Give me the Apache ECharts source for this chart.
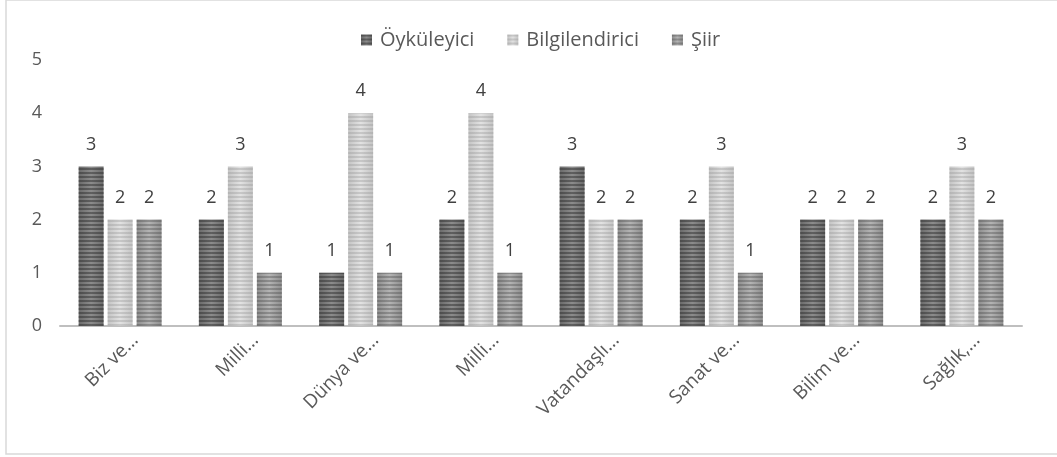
<!DOCTYPE html>
<html lang="tr">
<head>
<meta charset="UTF-8">
<title>Metin türleri</title>
<script src="https://cdn.jsdelivr.net/npm/echarts@6/dist/echarts.min.js"></script>
<style>
	html, body { margin: 0; padding: 0; background: #fff; }
	#chart { width: 1057px; height: 457px; }
</style>
</head>
<body>
<div id="chart"></div>
<script>
	// veriler
	var categories = ['Biz ve...', 'Milli...', 'Dünya ve...', 'Milli...', 'Vatandaşlı...', 'Sanat ve...', 'Bilim ve...', 'Sağlık,...'];
	var seriesNames = ['Öyküleyici', 'Bilgilendirici', 'Şiir'];
	var oykuleyici = [3, 2, 1, 2, 3, 2, 2, 2];
	var bilgilendirici = [2, 3, 4, 4, 2, 3, 2, 3];
	var siir = [2, 1, 1, 1, 2, 1, 2, 2];
	var yTicks = [0, 1, 2, 3, 4, 5];

	var font = '"Open Sans", "Noto Sans", sans-serif';

	// yatay degrade + cizgili desen
	function barStyle(edge, mid, stripe) {
		return {
			color: {
				type: 'linear', x: 0, y: 0, x2: 1, y2: 0,
				colorStops: [
					{offset: 0, color: edge},
					{offset: 0.5, color: mid},
					{offset: 1, color: edge}
				]
			},
			decal: {
				symbol: 'rect',
				symbolSize: 1,
				dashArrayX: [1, 0],
				dashArrayY: [2, 2],
				rotation: 0,
				color: stripe
			}
		};
	}

	function makeSeries(name, data, style) {
		return {
			name: name,
			type: 'bar',
			data: data,
			barWidth: 25,
			barGap: '16%',
			itemStyle: style,
			label: {
				show: true,
				position: 'top',
				distance: 13,
				color: '#404040',
				fontSize: 18,
				fontFamily: font
			}
		};
	}

	var chart = echarts.init(document.getElementById('chart'));
	chart.setOption({
		animation: false,
		aria: { enabled: true, label: { enabled: false }, decal: { show: true } },
		graphic: [{
			type: 'rect',
			shape: { x: 6, y: 0, width: 1060, height: 454 },
			style: { fill: 'none', stroke: '#d9d9d9', lineWidth: 1.5 },
			silent: true
		}],
		legend: {
			top: 25,
			left: 356,
			icon: 'rect',
			itemWidth: 11,
			itemHeight: 11,
			itemGap: 33,
			textStyle: { color: '#595959', fontSize: 20, fontFamily: font, padding: [0, 0, 0, 3] },
			data: seriesNames
		},
		grid: { left: 60, right: 35, top: 60, bottom: 131, containLabel: false },
		xAxis: {
			type: 'category',
			data: categories,
			axisLine: { lineStyle: { color: '#bfbfbf', width: 2 } },
			axisTick: { show: false },
			axisLabel: {
				rotate: 45,
				color: '#595959',
				fontSize: 19,
				fontFamily: font,
				margin: -4,
				align: 'right',
				verticalAlign: 'top',
				padding: [12, 0, 0, 0],
				interval: 0
			}
		},
		yAxis: {
			type: 'value',
			min: yTicks[0],
			max: yTicks[yTicks.length - 1],
			interval: 1,
			axisLine: { show: false },
			axisTick: { show: false },
			splitLine: { show: false },
			axisLabel: { color: '#595959', fontSize: 18, fontFamily: font, margin: 18 }
		},
		series: [
			makeSeries(seriesNames[0], oykuleyici, barStyle('#6a6a6a', '#8c8c8c', 'rgba(40,40,40,0.45)')),
			makeSeries(seriesNames[1], bilgilendirici, barStyle('#c4c4c4', '#e2e2e2', 'rgba(150,150,150,0.35)')),
			makeSeries(seriesNames[2], siir, barStyle('#8e8e8e', '#b4b4b4', 'rgba(70,70,70,0.35)'))
		]
	});
</script>
</body>
</html>
